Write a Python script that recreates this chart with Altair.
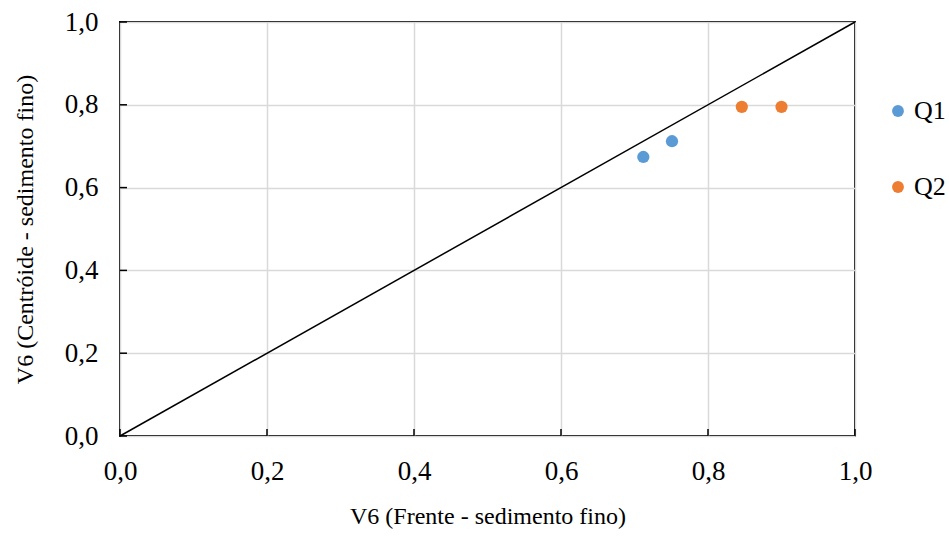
import altair as alt
import pandas as pd

series = ["Q1", "Q1", "Q2", "Q2"]
x_vals = [0.712, 0.751, 0.846, 0.900]
y_vals = [0.674, 0.712, 0.795, 0.795]
ticks = [0.0, 0.2, 0.4, 0.6, 0.8, 1.0]
line_x = [0.0, 1.0]
line_y = [0.0, 1.0]

pts = pd.DataFrame({"s": series, "x": x_vals, "y": y_vals})
diag = pd.DataFrame({"x": line_x, "y": line_y})
tk = pd.DataFrame({"t": ticks})

W, H = 735, 414
font = "Liberation Serif"
xscale = alt.Scale(domain=[0, 1], nice=False, zero=True)
yscale = alt.Scale(domain=[0, 1], nice=False, zero=True)

common = dict(values=ticks, labelExpr="replace(format(datum.value, '.1f'), '.', ',')",
              grid=True, domain=False, ticks=False, labelFont=font, titleFont=font,
              labelFontSize=27, titleFontSize=24, labelColor="black", titleColor="black",
              titleFontWeight="normal", gridColor="#D9D9D9", gridWidth=1.5,
              labelFlush=False, labelOverlap=False, labelBound=False)

xaxis = alt.Axis(title="V6 (Frente - sedimento fino)", labelPadding=22, titlePadding=20, **common)
yaxis = alt.Axis(title="V6 (Centróide - sedimento fino)", labelPadding=22, titlePadding=27, **common)

line = alt.Chart(diag).mark_line(color="black", strokeWidth=1.5).encode(
    x=alt.X("x:Q", scale=xscale, axis=xaxis),
    y=alt.Y("y:Q", scale=yscale, axis=yaxis),
)

xticks = alt.Chart(tk).mark_rule(color="black", strokeWidth=1.5).encode(
    x=alt.X("t:Q", scale=xscale, axis=xaxis), y=alt.value(H), y2=alt.value(H - 7))
yticks = alt.Chart(tk).mark_rule(color="black", strokeWidth=1.5).encode(
    y=alt.Y("t:Q", scale=yscale, axis=yaxis), x=alt.value(0), x2=alt.value(7))

points = alt.Chart(pts).mark_point(filled=True, opacity=1, size=150, shape="circle").encode(
    x=alt.X("x:Q", scale=xscale, axis=xaxis),
    y=alt.Y("y:Q", scale=yscale, axis=yaxis),
    color=alt.Color("s:N", scale=alt.Scale(domain=["Q1", "Q2"], range=["#5B9BD5", "#ED7D31"]),
                    legend=alt.Legend(title=None, orient="none", legendX=765, legendY=76,
                                      symbolSize=140, symbolType="circle", labelFontSize=26,
                                      labelFont=font, labelColor="black", rowPadding=50,
                                      labelOffset=3, padding=0)),
)

chart = alt.layer(line, xticks, yticks, points).properties(
    width=W, height=H,
    padding={"left": 120, "top": 22, "right": 94, "bottom": 100},
    autosize=alt.AutoSizeParams(type="none"),
).configure_view(stroke="black", strokeWidth=2)

chart.save("out.html", embed_options={"renderer": "svg", "actions": False})
